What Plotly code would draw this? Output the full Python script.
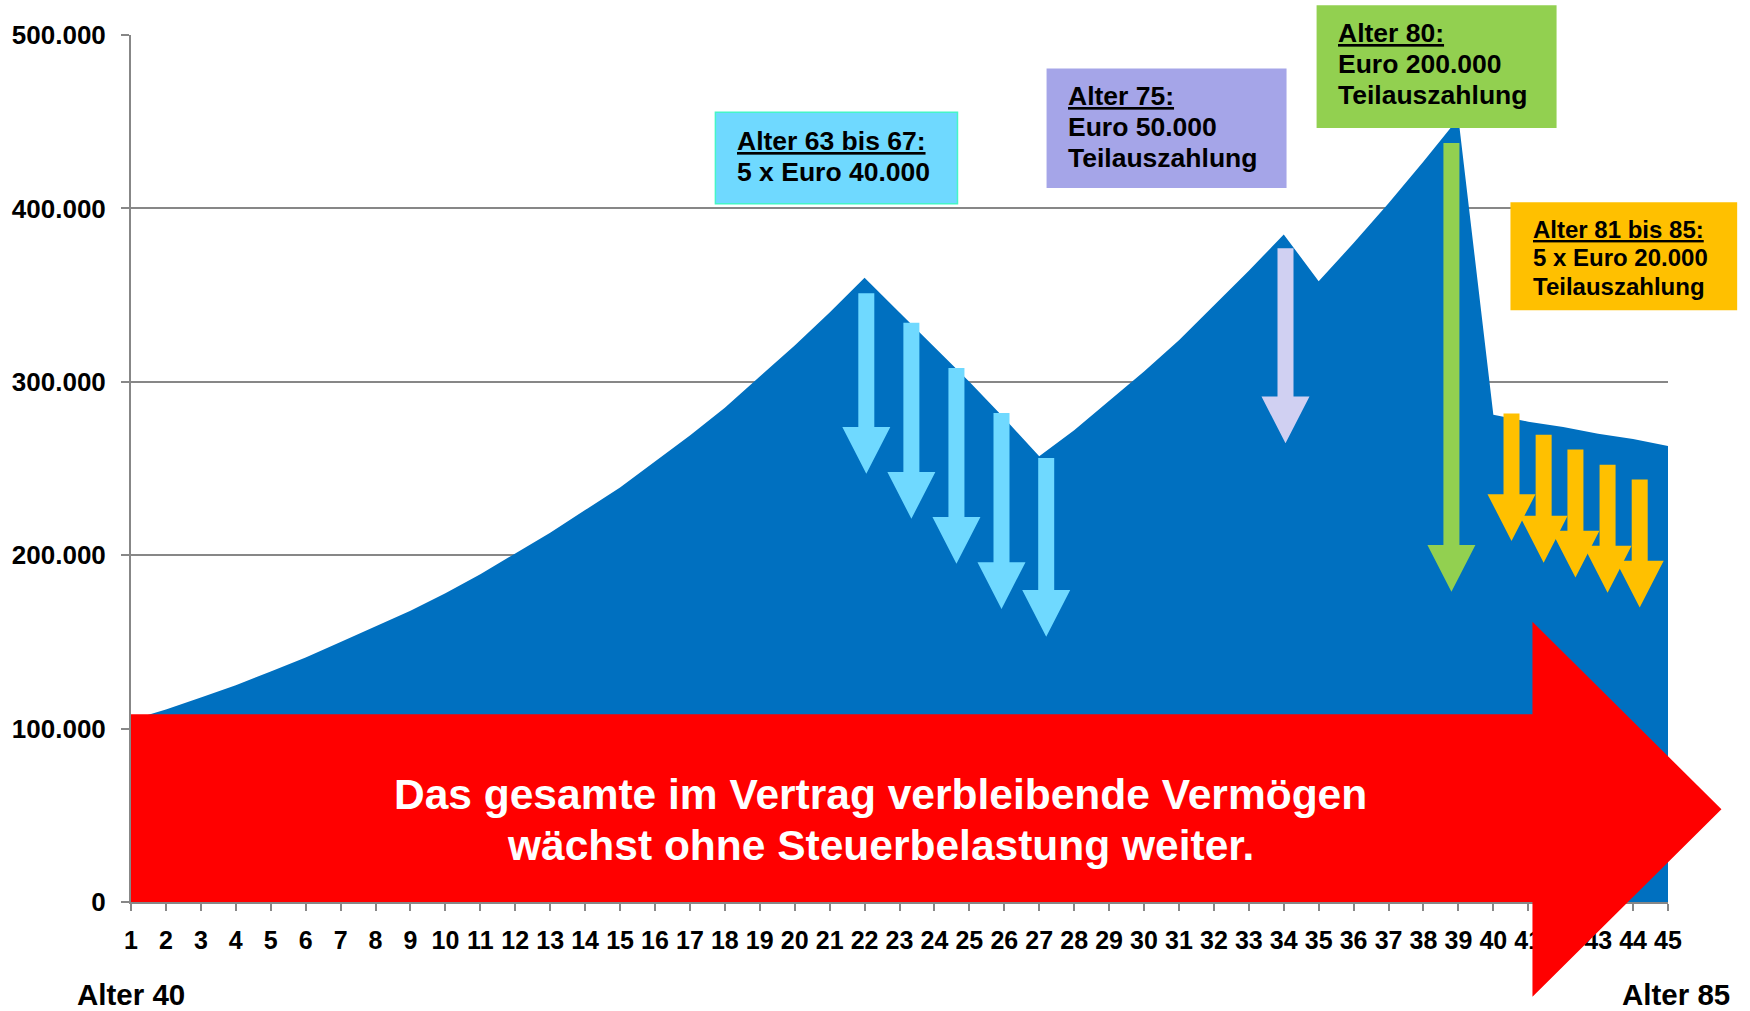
import plotly.graph_objects as go

# ---------------- data ----------------
years = list(range(1, 46))
x_labels = [str(i) for i in years]
# Vermögen in Tsd. Euro
vermoegen_tsd = [105, 111, 118, 125, 133, 141, 150, 159, 168, 178,
                 189, 201, 213, 226, 239, 254, 269, 285, 303, 321,
                 340, 360, 340, 320, 300, 279, 257, 272, 289, 306,
                 324, 344, 364, 385, 358, 380, 403, 427, 452, 281,
                 277, 274, 270, 267, 263]
y_ticks = [0, 100000, 200000, 300000, 400000, 500000]

# withdrawal arrows (x in years, y in Tsd. Euro)
cyan_x = [22.05, 23.34, 24.63, 25.92, 27.2]
cyan_top = [351, 334, 308, 282, 256]
cyan_tip = [247, 221, 195, 169, 153]
lav_x = [34.05]
lav_top = [377]
lav_tip = [264.5]
green_x = [38.8]
green_top = [437.7]
green_tip = [178.9]
orange_x = [40.52, 41.44, 42.35, 43.27, 44.19]
orange_top = [281.7, 269.5, 260.9, 252.2, 243.6]
orange_tip = [208.2, 195.7, 187.1, 178.4, 169.8]

# info boxes (x in years, y in Tsd. Euro)
box_x0 = [17.73, 27.21, 34.94, 40.49]
box_x1 = [24.66, 34.08, 41.81, 46.98]
box_y0 = [402.7, 411.7, 446.3, 341.2]
box_y1 = [455.4, 480.7, 517.1, 403.5]
box_colors = ["#6FD9FF", "#A5A5E8", "#92D050", "#FFC000"]
box_text_x = [18.30, 27.76, 35.51, 41.09]
box_lines = [
    ["<u>Alter 63 bis 67:</u>", "5 x Euro 40.000"],
    ["<u>Alter 75:</u>", "Euro 50.000", "Teilauszahlung"],
    ["<u>Alter 80:</u>", "Euro 200.000", "Teilauszahlung"],
    ["<u>Alter 81 bis 85:</u>", "5 x Euro 20.000", "Teilauszahlung"],
]
box_line_y = [
    [438.9, 420.9],
    [464.6, 446.9, 429.1],
    [501.2, 483.2, 465.2],
    [388.0, 371.5, 355.2],
]
box_font_size = [26.5, 26.5, 26.5, 24]

# big red arrow outline (x in years, y in Tsd. Euro)
red_arrow_x = [1, 1, 41.12, 41.12, 46.53, 41.12, 41.12]
red_arrow_y = [0, 108.3, 108.3, 161.6, 53.5, -54.7, 0]
red_text = ["Das gesamte im Vertrag verbleibende Vermögen",
            "wächst ohne Steuerbelastung weiter."]
red_text_x = 22.47
red_text_y = [61.8, 32.7]

age_labels = ["Alter 40", "Alter 85"]
age_label_x = [1, 45.23]
age_label_y = -53.3

# ---------------- helpers ----------------
X_MIN, X_MAX = 1, 45
Y_MAX = 500000
FONT = "Liberation Sans, Arial, sans-serif"
GRID = "#878787"


def px(x):
    return (x - X_MIN) / (X_MAX - X_MIN)


def py(v_tsd):
    return v_tsd * 1000 / Y_MAX


def arrow_path(x, top, tip):
    sw, hw, hh = 0.229, 0.687, 27.0
    base = tip + hh
    pts = [(x - sw, top), (x + sw, top), (x + sw, base), (x + hw, base),
           (x, tip), (x - hw, base), (x - sw, base)]
    return "M " + " L ".join(f"{a},{b * 1000}" for a, b in pts) + " Z"


fig = go.Figure()
fig.add_trace(go.Scatter(
    x=years, y=[v * 1000 for v in vermoegen_tsd],
    mode="lines", line=dict(width=0, color="#0070C0"),
    fill="tozeroy", fillcolor="#0070C0",
    hoverinfo="skip", showlegend=False))

shapes = []
# red arrow
path = "M " + " L ".join(f"{px(a)},{py(b)}" for a, b in zip(red_arrow_x, red_arrow_y)) + " Z"
shapes.append(dict(type="path", xref="paper", yref="paper", path=path,
                   fillcolor="#FF0000", line=dict(width=0), layer="above"))

for xs, tops, tips, col in [(cyan_x, cyan_top, cyan_tip, "#6FD9FF"),
                            (lav_x, lav_top, lav_tip, "#D0D0F2"),
                            (green_x, green_top, green_tip, "#92D050"),
                            (orange_x, orange_top, orange_tip, "#FFC000")]:
    for x, t, tp in zip(xs, tops, tips):
        shapes.append(dict(type="path", xref="x", yref="y", path=arrow_path(x, t, tp),
                           fillcolor=col, line=dict(width=0), layer="above"))

for i in range(4):
    shapes.append(dict(type="rect", xref="paper", yref="paper",
                       x0=px(box_x0[i]), x1=px(box_x1[i]),
                       y0=py(box_y0[i]), y1=py(box_y1[i]),
                       fillcolor=box_colors[i],
                       line=dict(width=1.5 if i == 0 else 0, color="#45F5C8"),
                       layer="above"))

annotations = []
for i in range(4):
    for txt, yy in zip(box_lines[i], box_line_y[i]):
        annotations.append(dict(
            x=px(box_text_x[i]), y=py(yy), xref="paper", yref="paper",
            text=txt, showarrow=False, xanchor="left", yanchor="middle",
            font=dict(family=FONT, size=box_font_size[i], color="black", weight="bold")))

for txt, yy in zip(red_text, red_text_y):
    annotations.append(dict(
        x=px(red_text_x), y=py(yy), xref="paper", yref="paper",
        text=txt, showarrow=False, xanchor="center", yanchor="middle",
        font=dict(family=FONT, size=42.5, color="white", weight="bold")))

for txt, xx in zip(age_labels, age_label_x):
    annotations.append(dict(
        x=px(xx), y=py(age_label_y), xref="paper", yref="paper",
        text=txt, showarrow=False, xanchor="center", yanchor="middle",
        font=dict(family=FONT, size=29.5, color="black", weight="bold")))

fig.update_layout(
    width=1750, height=1011,
    margin=dict(l=131, r=82, t=35, b=109, autoexpand=False),
    paper_bgcolor="white", plot_bgcolor="white",
    separators=",.",
    shapes=shapes, annotations=annotations,
    showlegend=False,
    xaxis=dict(range=[X_MIN, X_MAX], tickmode="array", tickvals=years, ticktext=x_labels,
               showgrid=False, zeroline=False, showline=True, linecolor=GRID, linewidth=2,
               ticks="outside", ticklen=7, tickwidth=2, tickcolor=GRID, tickangle=0,
               ticklabelstandoff=8,
               tickfont=dict(family=FONT, size=25, color="black", weight="bold")),
    yaxis=dict(range=[0, Y_MAX], tickmode="array", tickvals=y_ticks, tickformat=",d",
               showgrid=True, gridcolor=GRID, gridwidth=2, zeroline=False,
               showline=True, linecolor=GRID, linewidth=2,
               ticks="outside", ticklen=8, tickwidth=2, tickcolor=GRID,
               ticklabelstandoff=10,
               tickfont=dict(family=FONT, size=26, color="black", weight="bold")),
)

fig.write_html("out.html", config={"displayModeBar": False},
               post_script="document.body.style.margin='0px';document.body.style.overflow='hidden';")
